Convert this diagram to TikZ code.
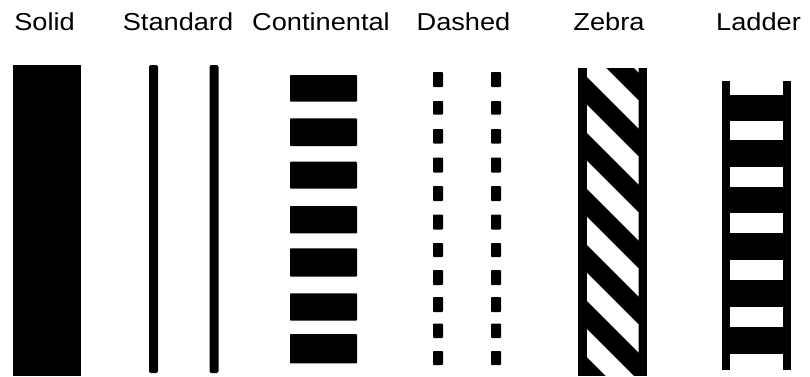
\documentclass[tikz,border=0pt]{standalone}
\usepackage{fontspec}
\setmainfont{Liberation Sans}[FakeStretch=1.11]
\begin{document}
\begin{tikzpicture}[x=1pt,y=-1pt,
  lbl/.style={anchor=base, inner sep=0pt, font=\fontsize{24.5}{26}\selectfont},
  blk/.style={fill=black}]
\useasboundingbox (0,0) rectangle (810,376);
\fill[white] (0,0) rectangle (810,376);
% labels
\node[lbl] (lsolid) at (44.5,30) {Solid};
\node[lbl] (lstd) at (178,30) {Standard};
\node[lbl] (lcont) at (321,30) {Continental};
\node[lbl] (ldash) at (463.5,30) {Dashed};
\node[lbl] (lzebra) at (609,30) {Zebra};
\node[lbl] (lladder) at (758.5,30) {Ladder};
% solid
\fill[blk] (13,65) rectangle (81,376);
% standard
\fill[blk, rounded corners=2pt] (149,65) rectangle (158,373);
\fill[blk, rounded corners=2pt] (209.5,65) rectangle (218.5,373);
% continental
\foreach \a/\b in {75/101.7, 118.3/146, 161.7/188.7, 206/233.3, 248.3/276.7, 293.3/320.7, 334/363.3}
  \fill[blk, rounded corners=0.8pt] (290,\a) rectangle (357,\b);
% dashed
\foreach \a/\b in {72/87, 101/114.5, 129/143.5, 157.5/172.5, 186/201, 214.5/229.5, 243/257, 270/285, 297/312, 323.5/338, 351/365}{
  \fill[blk, rounded corners=0.8pt] (433,\a) rectangle (443,\b);
  \fill[blk, rounded corners=0.8pt] (491,\a) rectangle (501,\b);
}
% zebra
\fill[blk] (578,68) rectangle (647,376);
\begin{scope}
  \clip (587,68) rectangle (638.5,376);
  \foreach \k in {-2,...,4}{
    \pgfmathsetmacro{\c}{-482+56*\k}
    \fill[white] (587,587+\c) -- (638.5,638.5+\c) -- (638.5,638.5+\c+28) -- (587,587+\c+28) -- cycle;
  }
\end{scope}
% ladder
\fill[blk] (722,81) rectangle (730,370);
\fill[blk] (783,81) rectangle (790.5,370);
\foreach \a/\b in {95/121, 140/167, 187/213, 233/259.5, 280/307, 327/354}
  \fill[blk] (729,\a) rectangle (784,\b);
\end{tikzpicture}
\end{document}
